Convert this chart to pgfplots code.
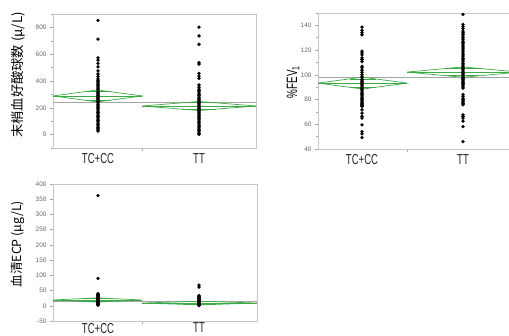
\documentclass[border=0pt]{standalone}
\usepackage{pgfplots}
\pgfplotsset{compat=1.18}
\usepackage{fontspec}
\setmainfont{Liberation Sans}
\newfontfamily\cjk{Noto Sans CJK JP}
\newfontfamily\narrow{Liberation Sans}[FakeStretch=0.66]
\definecolor{dgreen}{RGB}{60,170,70}
\pgfplotsset{
  jmp/.style={
    scale only axis,
    axis line style={draw=black!22, line width=0.6bp},
    tick align=outside,
    ytick pos=left, xtick pos=bottom,
    major tick length=3bp, minor tick length=1.8bp,
    every tick/.style={black!35, line width=0.5bp},
    /pgf/number format/assume math mode=true,
    scaled ticks=false,
    yticklabel style={font=\fontsize{6.5}{7}\selectfont, text=black!60},
    xtick={89}, xticklabels={},
  },
  xlab/.style={extra x tick style={major tick length=0pt, every tick/.style={draw=none},
       xticklabel style={font=\narrow\fontsize{14.5}{15}\selectfont, text=black!85, yshift=#1}}},
  dia/.style={dgreen, line width=0.7bp},
  gm/.style={black!35, line width=0.7bp},
  pts/.style={only marks, mark=*, mark size=1.5bp, black},
}
\begin{document}
\begin{tikzpicture}
\useasboundingbox (0,0) rectangle (509bp,336bp);
\clip (0,0) rectangle (509bp,336bp);
% ---------------- panel 1
\begin{axis}[jmp, xlab=-2.2bp, at={(53bp,188bp)}, anchor=south west,
  width=203bp, height=134bp, xmin=0, xmax=203, ymin=-100, ymax=900,
  ytick={0,200,400,600,800}, minor ytick={-100,100,300,500,700,900},
  extra x ticks={45,146}, extra x tick labels={TC+CC,TT},
  ylabel={\cjk\fontsize{13.3}{14}\selectfont 末梢血好酸球数 (μ/L)},
  ylabel style={at={(axis description cs:-0.172,0.545)}, anchor=center}]
\addplot[gm] coordinates {(0,242) (203,242)};
\addplot[dia] coordinates {(0,288.5) (44.5,333) (89,288.5) (44.5,244) (0,288.5)};
\addplot[dia] coordinates {(0,288.5) (89,288.5)};
\addplot[dia] coordinates {(31.5,320) (57.5,320)};
\addplot[dia] coordinates {(31.5,257) (57.5,257)};
\addplot[dia] coordinates {(89,213.5) (146,247) (203,213.5) (146,180) (89,213.5)};
\addplot[dia] coordinates {(89,213.5) (203,213.5)};
\addplot[dia] coordinates {(129.3,237.2) (162.7,237.2)};
\addplot[dia] coordinates {(129.3,189.8) (162.7,189.8)};
\addplot[pts] coordinates {(45,852) (45,713) (45,573) (45,556) (45,531) (45,506) (45,476) (45,452) (45,432) (45,415) (45,405) (45,395) (45,385) (45,375) (45,365) (45,355) (45,345) (45,335) (45,325) (45,315) (45,305) (45,297) (45,290) (45,282) (45,275) (45,268) (45,260) (45,252) (45,245) (45,237) (45,228) (45,220) (45,212) (45,203) (45,195) (45,185) (45,175) (45,165) (45,155) (45,145) (45,135) (45,125) (45,115) (45,105) (45,95) (45,85) (45,75) (45,65) (45,55) (45,45) (45,35) (45,27)};
\addplot[pts] coordinates {(146,802) (146,736) (146,674) (146,536) (146,526) (146,457) (146,437) (146,420) (146,370) (146,353) (146,340) (146,330) (146,320) (146,310) (146,300) (146,290) (146,280) (146,272) (146,265) (146,258) (146,250) (146,243) (146,236) (146,229) (146,222) (146,215) (146,208) (146,200) (146,193) (146,186) (146,178) (146,170) (146,162) (146,154) (146,146) (146,138) (146,130) (146,120) (146,110) (146,100) (146,90) (146,80) (146,70) (146,60) (146,50) (146,40) (146,30) (146,20) (146,10) (146,2)};
\end{axis}
% ---------------- panel 2
\begin{axis}[jmp, xlab=-2.2bp, at={(318bp,187bp)}, anchor=south west,
  width=201bp, height=136bp, xmin=0, xmax=201, ymin=40, ymax=150,
  ytick={40,60,80,100,120,140}, minor ytick={50,70,90,110,130,150},
  extra x ticks={44,145}, extra x tick labels={TC+CC,TT},
  ylabel={\narrow\fontsize{15}{16}\selectfont \%FEV\textsubscript{1}},
  ylabel style={at={(axis description cs:-0.124,0.493)}, anchor=center}]
\addplot[gm] coordinates {(0,98) (201,98)};
\addplot[dia] coordinates {(0,93.3) (44.5,98.1) (89,93.3) (44.5,88.5) (0,93.3)};
\addplot[dia] coordinates {(0,93.3) (89,93.3)};
\addplot[dia] coordinates {(31.5,96.7) (57.5,96.7)};
\addplot[dia] coordinates {(31.5,89.9) (57.5,89.9)};
\addplot[dia] coordinates {(89,102.2) (145,106.4) (201,102.2) (145,98) (89,102.2)};
\addplot[dia] coordinates {(89,102.2) (201,102.2)};
\addplot[dia] coordinates {(128.6,105.2) (161.4,105.2)};
\addplot[dia] coordinates {(128.6,99.2) (161.4,99.2)};
\addplot[pts] coordinates {(44,138.6) (44,135.9) (44,134.1) (44,132.4) (44,119.1) (44,117.8) (44,116.2) (44,113.7) (44,112.4) (44,110.7) (44,106.9) (44,105.6) (44,103.7) (44,102.0) (44,100.2) (44,98.8) (44,97.5) (44,96) (44,95) (44,94) (44,93) (44,92) (44,91) (44,90) (44,89) (44,88) (44,87) (44,86) (44,85) (44,84) (44,83) (44,82) (44,81) (44,80) (44,79) (44,78) (44,77) (44,76) (44,75) (44,74.4) (44,71.7) (44,69) (44,66.3) (44,65) (44,59.5) (44,54.1) (44,52.2) (44,49.2)};
\addplot[pts] coordinates {(145,148.9) (145,140.8) (145,139) (145,137.3) (145,135.4) (145,134) (145,133) (145,131.5) (145,130) (145,128.5) (145,127) (145,126) (145,125) (145,124) (145,122.5) (145,121) (145,120) (145,118.5) (145,117) (145,116) (145,114.5) (145,113) (145,112) (145,110.5) (145,109) (145,108) (145,107) (145,106) (145,105) (145,104) (145,103) (145,102) (145,101) (145,100) (145,99) (145,98) (145,97) (145,96) (145,95) (145,94) (145,93) (145,92) (145,91) (145,90) (145,89.3) (145,83.9) (145,82.5) (145,81) (145,80) (145,79) (145,78) (145,76.8) (145,75.8) (145,67.6) (145,66.3) (145,65) (145,62.5) (145,58.1) (145,45.9)};
\end{axis}
% ---------------- panel 3
\begin{axis}[jmp, xlab=1.5bp, at={(53bp,15bp)}, anchor=south west,
  width=204bp, height=137bp, xmin=0, xmax=204, ymin=-50, ymax=400,
  ytick={-50,0,50,100,150,200,250,300,350,400},
  extra x ticks={45,146}, extra x tick labels={TC+CC,TT},
  ylabel={\cjk\fontsize{12.5}{13}\selectfont 血清ECP (μg/L)},
  ylabel style={at={(axis description cs:-0.172,0.562)}, anchor=center}]
\addplot[gm] coordinates {(0,13) (204,13)};
\addplot[dia] coordinates {(0,19) (44.5,26) (89,19) (44.5,12) (0,19)};
\addplot[dia] coordinates {(0,19) (89,19)};
\addplot[dia] coordinates {(31.5,24) (57.5,24)};
\addplot[dia] coordinates {(31.5,14) (57.5,14)};
\addplot[dia] coordinates {(89,9) (146.5,15) (204,9) (146.5,3) (89,9)};
\addplot[dia] coordinates {(89,9) (204,9)};
\addplot[dia] coordinates {(129.7,13.2) (163.3,13.2)};
\addplot[dia] coordinates {(129.7,4.8) (163.3,4.8)};
\addplot[pts] coordinates {(45,362) (45,90) (45,40) (45,37) (45,35) (45,33) (45,31) (45,29) (45,27) (45,25) (45,23) (45,21) (45,19) (45,17) (45,15) (45,13) (45,12) (45,11) (45,10) (45,9) (45,8) (45,7) (45,6) (45,5) (45,4) (45,3) (45,2)};
\addplot[pts] coordinates {(146,68) (146,61) (146,33) (146,30) (146,28) (146,26) (146,24) (146,22) (146,20) (146,18) (146,16) (146,14) (146,12) (146,10) (146,9) (146,8) (146,7) (146,6) (146,5) (146,4) (146,3) (146,2) (146,1)};
\end{axis}
\end{tikzpicture}
\end{document}
